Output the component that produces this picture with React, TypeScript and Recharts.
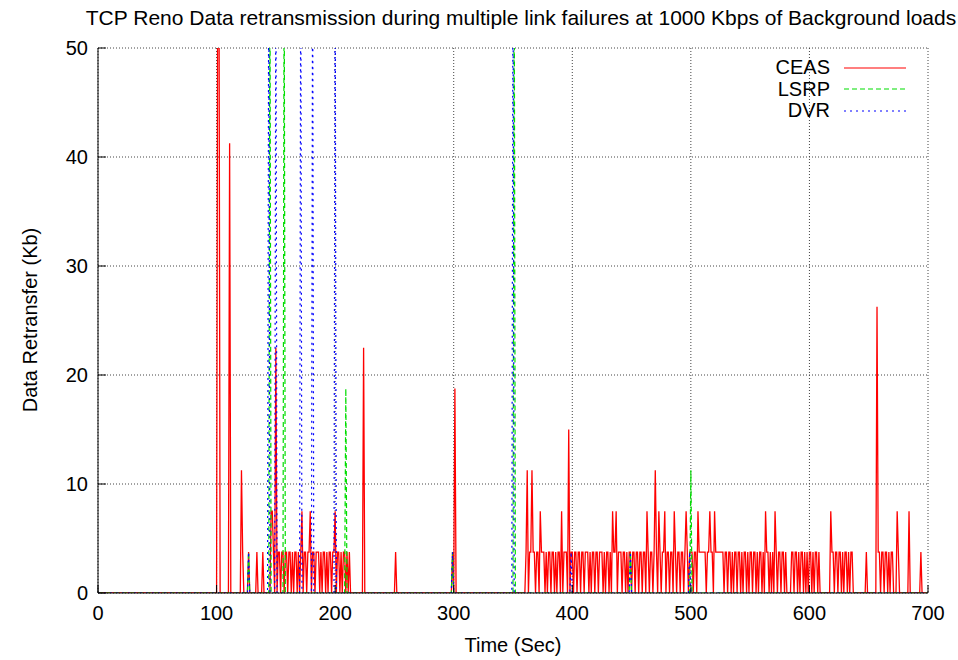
import React from 'react';
import { LineChart, Line, XAxis, YAxis, CartesianGrid, Legend } from 'recharts';

// retransfers come in whole segments of 3.75 Kb
const KB_STEP = 3.75;

// CEAS: one level per second, first entry is t = 100 s (value = level * 3.75 Kb)
const ceasStart = 100;
const ceasLevels = [
  0, 16, 16, 0, 0, 0, 0, 0, 0, 0, // 100
  0, 11, 0, 0, 0, 0, 0, 0, 0, 0,  // 110
  0, 3, 1, 0, 0, 0, 0, 1, 0, 0,   // 120
  0, 0, 0, 0, 1, 0, 0, 0, 0, 1,   // 130
  0, 0, 0, 0, 0, 0, 2, 2, 1, 0,   // 140
  6, 0, 1, 1, 0, 1, 1, 0, 1, 1,   // 150
  0, 1, 1, 0, 1, 0, 1, 1, 0, 1,   // 160
  0, 1, 2, 0, 1, 1, 0, 1, 1, 2,   // 170
  0, 1, 1, 0, 1, 1, 1, 0, 1, 0,   // 180
  1, 1, 0, 1, 0, 1, 1, 0, 1, 1,   // 190
  2, 0, 1, 1, 0, 1, 0, 1, 1, 0,   // 200
  1, 0, 1, 0, 0, 0, 0, 0, 0, 0,   // 210
  0, 0, 0, 0, 6, 0, 0, 0, 0, 0,   // 220
  0, 0, 0, 0, 0, 0, 0, 0, 0, 0,   // 230
  0, 0, 0, 0, 0, 0, 0, 0, 0, 0,   // 240
  0, 1, 0, 0, 0, 0, 0, 0, 0, 0,   // 250
  0, 0, 0, 0, 0, 0, 0, 0, 0, 0,   // 260
  0, 0, 0, 0, 0, 0, 0, 0, 0, 0,   // 270
  0, 0, 0, 0, 0, 0, 0, 0, 0, 0,   // 280
  0, 0, 0, 0, 0, 0, 0, 0, 0, 1,   // 290
  0, 5, 0, 0, 0, 0, 0, 0, 0, 0,   // 300
  0, 0, 0, 0, 0, 0, 0, 0, 0, 0,   // 310
  0, 0, 0, 0, 0, 0, 0, 0, 0, 0,   // 320
  0, 0, 0, 0, 0, 0, 0, 0, 0, 0,   // 330
  0, 0, 0, 0, 0, 0, 0, 0, 0, 0,   // 340
  0, 0, 0, 0, 0, 0, 0, 0, 0, 0,   // 350
  0, 1, 3, 0, 1, 1, 3, 1, 1, 0,   // 360
  1, 1, 0, 2, 1, 1, 1, 0, 1, 0,   // 370
  1, 1, 0, 1, 1, 0, 1, 0, 1, 1,   // 380
  0, 2, 0, 1, 1, 1, 0, 4, 0, 1,   // 390
  1, 0, 1, 1, 0, 1, 1, 0, 1, 1,   // 400
  0, 1, 1, 1, 0, 1, 0, 1, 1, 0,   // 410
  1, 1, 0, 1, 1, 1, 0, 1, 0, 1,   // 420
  1, 0, 1, 0, 2, 1, 1, 2, 0, 1,   // 430
  1, 1, 0, 1, 1, 0, 1, 0, 1, 1,   // 440
  0, 1, 1, 0, 1, 1, 0, 1, 1, 0,   // 450
  1, 1, 0, 2, 1, 0, 1, 1, 0, 1,   // 460
  3, 1, 0, 2, 1, 0, 1, 1, 2, 0,   // 470
  1, 1, 0, 1, 1, 0, 2, 1, 0, 1,   // 480
  1, 0, 1, 1, 0, 1, 2, 1, 0, 1,   // 490
  1, 1, 0, 1, 1, 0, 2, 1, 1, 1,   // 500
  1, 1, 1, 0, 1, 1, 2, 1, 1, 0,   // 510
  2, 1, 1, 1, 1, 1, 1, 1, 0, 1,   // 520
  1, 0, 1, 1, 0, 1, 0, 1, 1, 0,   // 530
  1, 1, 0, 1, 0, 1, 1, 0, 1, 0,   // 540
  1, 1, 0, 1, 1, 0, 1, 0, 1, 1,   // 550
  0, 1, 0, 2, 1, 1, 0, 1, 0, 1,   // 560
  0, 2, 1, 0, 1, 1, 0, 1, 1, 0,   // 570
  1, 0, 0, 0, 0, 1, 1, 0, 1, 1,   // 580
  0, 1, 0, 1, 1, 0, 1, 0, 1, 0,   // 590
  1, 1, 0, 1, 0, 1, 1, 0, 1, 0,   // 600
  0, 0, 0, 0, 0, 0, 0, 0, 2, 1,   // 610
  1, 0, 1, 1, 0, 1, 1, 0, 1, 0,   // 620
  1, 1, 0, 1, 0, 1, 1, 0, 0, 0,   // 630
  0, 0, 0, 0, 0, 0, 0, 0, 1, 0,   // 640
  0, 0, 0, 0, 0, 0, 0, 7, 1, 1,   // 650
  0, 1, 1, 0, 1, 1, 0, 1, 0, 1,   // 660
  1, 0, 0, 0, 2, 1, 0, 0, 0, 0,   // 670
  0, 0, 0, 0, 2, 0, 0, 0, 0, 0,   // 680
  0, 0, 0, 0, 1, 0, 0, 0, 0, 0,   // 690
  0,                              // 700
];

// LSRP and DVR only show isolated spikes (60 = off the top of the plot)
const lsrpTimes = [0, 126, 127, 128, 144, 145, 146, 156, 157, 158, 208, 209, 210, 298, 299, 300, 350, 351, 352, 448, 449, 450, 499, 500, 501, 700];
const lsrpValues = [0, 0, 3.75, 0, 0, 60, 0, 0, 60, 0, 0, 18.75, 0, 0, 3.75, 0, 0, 60, 0, 0, 3.75, 0, 0, 11.25, 0, 0];

const dvrTimes = [0, 126, 127, 128, 143, 144, 145, 149, 150, 151, 170, 171, 172, 180, 181, 182, 199, 200, 201, 298, 299, 300, 349, 350, 351, 398, 399, 400, 448, 449, 450, 498, 499, 500, 700];
const dvrValues = [0, 0, 3.75, 0, 0, 60, 0, 0, 60, 0, 0, 60, 0, 0, 60, 0, 0, 60, 0, 0, 3.75, 0, 0, 60, 0, 0, 3.75, 0, 0, 3.75, 0, 0, 3.75, 0, 0];

const xTicks = [0, 100, 200, 300, 400, 500, 600, 700];
const yTicks = [0, 10, 20, 30, 40, 50];

const ceasData = [{ t: 0, v: 0 }, ...ceasLevels.map((lvl, i) => ({ t: ceasStart + i, v: lvl * KB_STEP }))];
const lsrpData = lsrpTimes.map((t, i) => ({ t, v: lsrpValues[i] }));
const dvrData = dvrTimes.map((t, i) => ({ t, v: dvrValues[i] }));

const FONT = '"Liberation Sans", Arial, Helvetica, sans-serif';

const legendItems = [
  { name: 'CEAS', color: '#ff0000', dash: undefined },
  { name: 'LSRP', color: '#00dd00', dash: '5 3' },
  { name: 'DVR', color: '#0000ff', dash: '2 4' },
];

const LegendBox = () => (
  <div style={{ fontFamily: FONT, fontSize: 20 }}>
    {legendItems.map(item => (
      <div key={item.name} style={{ display: 'flex', alignItems: 'center', height: 21.5 }}>
        <span style={{ width: 90, textAlign: 'right', lineHeight: '21.5px' }}>{item.name}</span>
        <svg width={62} height={10} style={{ marginLeft: 14 }}>
          <line x1={0} y1={5} x2={62} y2={5} stroke={item.color} strokeWidth={1.2} strokeDasharray={item.dash} />
        </svg>
      </div>
    ))}
  </div>
);

export default function App() {
  const tickStyle = { fontSize: 20, fill: '#000', fontFamily: FONT };
  return (
    <div style={{ position: 'absolute', left: 0, top: 0, width: 958, height: 660, background: '#fff', fontFamily: FONT, color: '#000' }}>
      <div style={{ position: 'absolute', top: 6, left: 521, transform: 'translateX(-50%)', whiteSpace: 'nowrap', fontSize: 21, lineHeight: '24px' }}>
        TCP Reno Data retransmission during multiple link failures at 1000 Kbps of Background loads
      </div>
      <div style={{ position: 'absolute', top: 633, left: 513, transform: 'translateX(-50%)', whiteSpace: 'nowrap', fontSize: 20, lineHeight: '24px' }}>
        Time (Sec)
      </div>
      <div style={{ position: 'absolute', top: 320, left: 30, transform: 'translate(-50%, -50%) rotate(-90deg)', whiteSpace: 'nowrap', fontSize: 20, lineHeight: '24px' }}>
        Data Retransfer (Kb)
      </div>
      <LineChart width={958} height={660} margin={{ top: 48, right: 30, bottom: 0, left: 0 }}>
        <CartesianGrid stroke="#444" strokeDasharray="1 2" />
        <XAxis
          type="number"
          dataKey="t"
          domain={[0, 700]}
          ticks={xTicks}
          allowDataOverflow
          height={67}
          tickSize={-8}
          tickMargin={21}
          tick={tickStyle}
          stroke="#000"
        />
        <XAxis xAxisId="top" orientation="top" type="number" dataKey="t" domain={[0, 700]} ticks={xTicks} height={0} tickSize={-8} tick={false} stroke="#000" />
        <YAxis
          type="number"
          domain={[0, 50]}
          ticks={yTicks}
          allowDataOverflow
          width={98}
          tickSize={-8}
          tickMargin={18}
          tick={tickStyle}
          stroke="#000"
        />
        <YAxis yAxisId="right" orientation="right" type="number" domain={[0, 50]} ticks={yTicks} width={0} tickSize={-8} tick={false} stroke="#000" />
        <Legend
          layout="horizontal"
          verticalAlign="middle"
          align="center"
          content={() => <LegendBox />}
          wrapperStyle={{ left: 740, top: 57, width: 180 }}
        />
        <Line data={ceasData} dataKey="v" name="CEAS" type="linear" stroke="#ff0000" strokeWidth={1.3} dot={false} isAnimationActive={false} />
        <Line data={lsrpData} dataKey="v" name="LSRP" type="linear" stroke="#00dd00" strokeWidth={1.2} strokeDasharray="5 3" dot={false} isAnimationActive={false} />
        <Line data={dvrData} dataKey="v" name="DVR" type="linear" stroke="#0000ff" strokeWidth={1.2} strokeDasharray="2 4" dot={false} isAnimationActive={false} />
      </LineChart>
    </div>
  );
}
